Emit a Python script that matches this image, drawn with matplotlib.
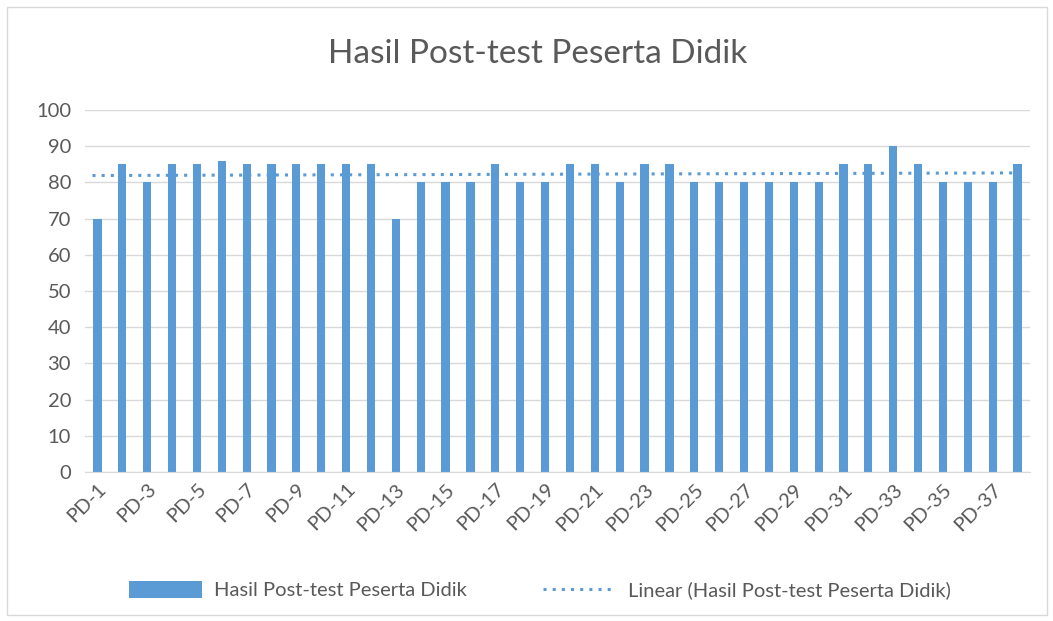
import numpy as np
import matplotlib.pyplot as plt
from matplotlib.patches import Rectangle

plt.rcParams["font.family"] = ["Lato", "DejaVu Sans"]

labels = [f"PD-{i}" for i in range(1, 39)]
scores = [70, 85, 80, 85, 85, 86, 85, 85, 85, 85, 85, 85, 70, 80, 80, 80, 85, 80, 80,
          85, 85, 80, 85, 85, 80, 80, 80, 80, 80, 80, 85, 85, 90, 85, 80, 80, 80, 85]
yticks = list(range(0, 101, 10))

BAR = "#5B9BD5"
TXT = "#595959"

fig = plt.figure(figsize=(10.53, 6.21), dpi=100)
ax = fig.add_axes([85 / 1053, 149 / 621, 945 / 1053, 362 / 621])

x = np.arange(len(scores))
bars = ax.bar(x, scores, width=0.33, color=BAR, zorder=2)

# Excel-style linear trendline
coef = np.polyfit(x, scores, 1)
xt = np.array([-0.2, len(scores) - 0.8])
trend, = ax.plot(xt, np.polyval(coef, xt), linestyle=(0, (1, 2)), color=BAR, linewidth=2.2,
                 zorder=3)

ax.set_xlim(-0.5, len(scores) - 0.5)
ax.set_ylim(0, 100)
ax.set_yticks(yticks)
ax.set_yticklabels([str(t) for t in yticks], fontsize=14.5, color=TXT)
ax.set_xticks(x[::2])
ax.set_xticklabels(labels[::2], rotation=45, ha="right", va="top",
                   rotation_mode="anchor", fontsize=14.5, color=TXT)
ax.tick_params(axis="y", length=0, pad=10)
ax.tick_params(axis="x", length=0, pad=6)
ax.grid(axis="y", color="#D9D9D9", linewidth=1, zorder=0)
for side in ["top", "right", "left"]:
    ax.spines[side].set_visible(False)
ax.spines["bottom"].set_color("#D9D9D9")

fig.text(538 / 1053, 1 - 54 / 621, "Hasil Post-test Peserta Didik", ha="center", va="center",
         fontsize=24, color=TXT)

fig.legend([bars, trend], ["Hasil Post-test Peserta Didik", "Linear (Hasil Post-test Peserta Didik)"],
           loc="center", bbox_to_anchor=(540 / 1053, 1 - 590 / 621), ncol=2, frameon=False,
           fontsize=14.5, labelcolor=TXT, handlelength=3.6, handleheight=0.9,
           columnspacing=3.8, handletextpad=0.6)

fig.patches.append(Rectangle((7 / 1053, 6 / 621), 1040 / 1053, 608 / 621, transform=fig.transFigure,
                             fill=False, edgecolor="#D9D9D9", linewidth=1))

fig.savefig("out.png", dpi=100)
